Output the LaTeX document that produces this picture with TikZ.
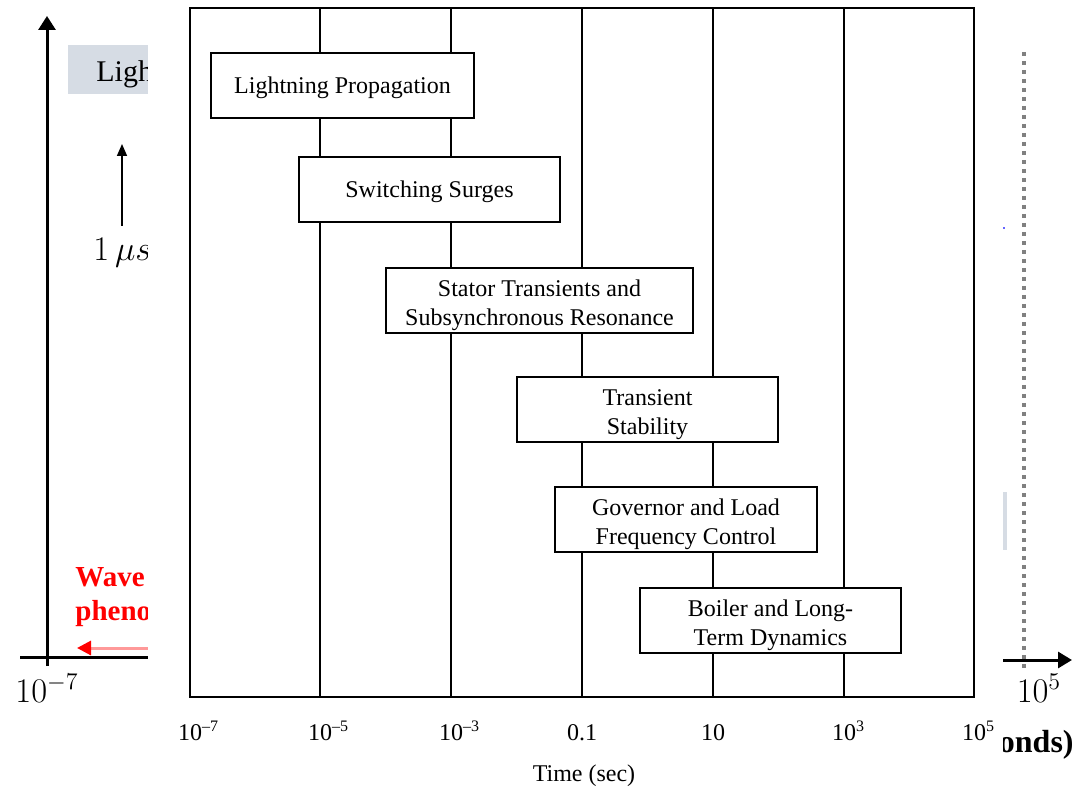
\documentclass[tikz,border=0pt]{standalone}
\usepackage{fontspec}
\setmainfont{Liberation Serif}
\usetikzlibrary{arrows.meta, calc}
\definecolor{slidegrey}{RGB}{214,220,228}
% box text, set a little lower than the box centre
\newcommand{\phasetext}[2][2.5pt]{\raisebox{-#1}[\height][\depth]{\begin{tabular}{@{}c@{}}#2\end{tabular}}}

\begin{document}
\begin{tikzpicture}[x=0.5pt, y=-0.5pt,
  phase/.style={draw, line width=1pt, fill=white, minimum height=32.5pt,
    inner sep=0pt, font=\fontsize{12}{14.5}\selectfont},
  ticklabel/.style={font=\fontsize{12}{14.5}\selectfont, anchor=base, inner sep=0pt},
  slidemath/.style={font=\fontsize{17.5}{21}\selectfont, inner sep=0pt}]
  \useasboundingbox (0,0) rectangle (1074,790);

  % slide behind the figure, left side
  \fill[slidegrey] (68,45) rectangle (160,94);
  \node[anchor=base west, inner sep=0pt, font=\fontsize{15}{18}\selectfont] (slideLigh) at (96,82) {Lightning};
  \coordinate (vBot) at (47,666);
  \coordinate (vTop) at (47,16);
  \draw[line width=1.5pt, -{Triangle[length=7pt, width=8.5pt]}] (vBot) -- (vTop);
  \coordinate (hLeft) at (20,657);
  \coordinate (hCut) at (160,657);
  \draw[line width=1.5pt] (hLeft) -- (hCut);
  \node[slidemath] (slideMin) at (47,688) {$10^{-7}$};
  \coordinate (usFoot) at (122,226);
  \coordinate (usHead) at (122,144);
  \draw[line width=0.8pt, -{Triangle[length=6pt, width=5pt]}] (usFoot) -- (usHead);
  \node[slidemath, anchor=west] (slideUs) at (93,253) {$1\,\mu s$};
  \node[font=\fontsize{14.5}{17}\selectfont\bfseries, text=red, anchor=north west,
    align=left, inner sep=0pt] (slideWave) at (75,567) {Wave\\phenomena};
  \coordinate (waveCut) at (160,648);
  \coordinate (waveHead) at (77,648);
  \draw[red!40, line width=1.5pt, -{Triangle[length=7pt, width=7pt, color=red]}] (waveCut) -- (waveHead);

  % slide behind the figure, right side
  \fill[slidegrey] (990,492) rectangle (1007,550);
  \fill[blue!60] (1003,227) rectangle (1005,229);
  \coordinate (dotTop) at (1024,52);
  \coordinate (dotBot) at (1024,668);
  \draw[gray, line width=2pt, dash pattern=on 2pt off 2.5pt] (dotTop) -- (dotBot);
  \coordinate (hCutR) at (990,660);
  \coordinate (hRight) at (1072,660);
  \draw[line width=1.5pt, -{Triangle[length=7pt, width=8pt]}] (hCutR) -- (hRight);
  \node[slidemath] (slideMax) at (1039,688) {$10^{5}$};
  \node[anchor=east, inner sep=0pt, font=\fontsize{16}{19}\selectfont\bfseries] (slideUnit) at (1074,745) {onds)};

  % the figure laid over the slide
  \fill[white] (148,-2) rectangle (1003,792);

  % decade grid
  \foreach \x in {320, 451, 582, 713, 844}
    \draw[line width=1pt] (\x,8) -- (\x,697);
  \draw[line width=1pt] (190,8) rectangle (974,697);

  % phenomena
  \node[phase, minimum width=131.5pt] (lightning) at (342.5,85.5) {\phasetext[1.3pt]{Lightning Propagation}};
  \node[phase, minimum width=130.5pt] (switching) at (429.5,189.5) {\phasetext[1.3pt]{Switching Surges}};
  \node[phase, minimum width=153.5pt] (stator) at (539.5,300.5) {\phasetext{Stator Transients and\\Subsynchronous Resonance}};
  \node[phase, minimum width=130.5pt] (transient) at (647.5,409.5) {\phasetext{Transient\\Stability}};
  \node[phase, minimum width=131pt] (governor) at (686,519.5) {\phasetext{Governor and Load\\Frequency Control}};
  \node[phase, minimum width=130.5pt] (boiler) at (770.5,620.5) {\phasetext{Boiler and Long-\\Term Dynamics}};

  % time axis labels
  \foreach \x/\lbl [count=\i] in {190/{10\rlap{\textsuperscript{–7}}}, 320/{10\rlap{\textsuperscript{–5}}},
      451/{10\rlap{\textsuperscript{–3}}}, 582/{0.1}, 713/{10},
      844/{10\rlap{\textsuperscript{3}}}, 974/{10\rlap{\textsuperscript{5}}}}
    \node[ticklabel] (tick\i) at (\x,740) {\lbl};
  \node[ticklabel] (timeLabel) at (584,781) {Time (sec)};
\end{tikzpicture}
\end{document}
